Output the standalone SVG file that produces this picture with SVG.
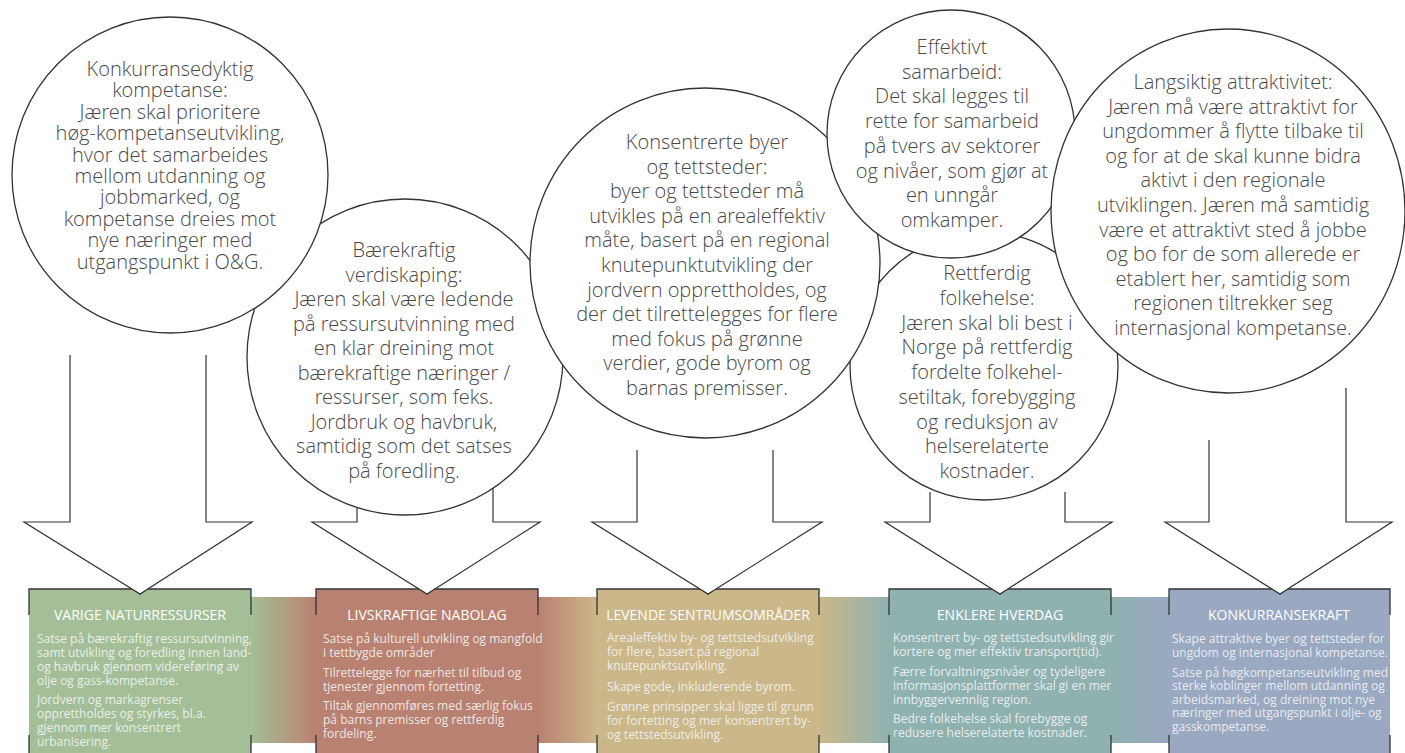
<svg xmlns="http://www.w3.org/2000/svg" width="1405" height="753" viewBox="0 0 1405 753">
<defs>
<style>
.c{fill:#fff;stroke:#333;stroke-width:1.3}
.ct{font-family:"Open Sans Light","Open Sans","Liberation Sans",sans-serif;font-weight:300;font-size:20px;fill:#484848;text-anchor:middle}
.arr{fill:#fff;stroke:#333;stroke-width:1.2;stroke-linejoin:miter}
.bl{fill:none;stroke:#333;stroke-width:1.3}
.bt{font-family:"Open Sans","Liberation Sans",sans-serif;font-weight:500;font-size:14px;fill:#fff;text-anchor:middle}
.bx{font-family:"Open Sans","Liberation Sans",sans-serif;font-weight:400;font-size:12px;fill:#f5f5f5;fill-opacity:0.9}
</style>
<linearGradient id="band" gradientUnits="userSpaceOnUse" x1="0" y1="0" x2="1405" y2="0">
<stop offset="0.1786" stop-color="#a4bf97"/>
<stop offset="0.2249" stop-color="#b98171"/>
<stop offset="0.3829" stop-color="#b98171"/>
<stop offset="0.4249" stop-color="#cbb789"/>
<stop offset="0.5829" stop-color="#cbb789"/>
<stop offset="0.6327" stop-color="#8fb1b0"/>
<stop offset="0.7907" stop-color="#8fb1b0"/>
<stop offset="0.8320" stop-color="#9aa8c2"/>
</linearGradient>
</defs>
<rect width="1405" height="753" fill="#fff"/>

<rect id="band-strip" x="245" y="597" width="930" height="146" fill="url(#band)"/>

<g id="box-varige">
<rect x="29" y="589" width="222" height="164" fill="#a4bf97"/>
<path class="bl" d="M29,615 V589 H133 L140,594 L147,589 H251 V615 M29,735 V753 M251,735 V753"/>
<text class="bt" x="140" y="620">VARIGE NATURRESSURSER</text>
<text class="bx"><tspan x="37" y="643">Satse på bærekraftig ressursutvinning,</tspan><tspan x="37" y="657">samt utvikling og foredling innen land-</tspan><tspan x="37" y="671">og havbruk gjennom videreføring av</tspan><tspan x="37" y="685">olje og gass-kompetanse.</tspan><tspan x="37" y="704">Jordvern og markagrenser</tspan><tspan x="37" y="718">opprettholdes og styrkes, bl.a.</tspan><tspan x="37" y="732">gjennom mer konsentrert</tspan><tspan x="37" y="746">urbanisering.</tspan></text>
</g>

<g id="box-livskraftige">
<rect x="316" y="589" width="222" height="164" fill="#b98171"/>
<path class="bl" d="M316,615 V589 H420 L427,594 L434,589 H538 V615 M316,735 V753 M538,735 V753"/>
<text class="bt" x="427" y="620">LIVSKRAFTIGE NABOLAG</text>
<text class="bx"><tspan x="323" y="643">Satse på kulturell utvikling og mangfold</tspan><tspan x="323" y="657">i tettbygde områder</tspan><tspan x="323" y="677">Tilrettelegge for nærhet til tilbud og</tspan><tspan x="323" y="691">tjenester gjennom fortetting.</tspan><tspan x="323" y="710">Tiltak gjennomføres med særlig fokus</tspan><tspan x="323" y="724">på barns premisser og rettferdig</tspan><tspan x="323" y="738">fordeling.</tspan></text>
</g>

<g id="box-levende">
<rect x="597" y="589" width="222" height="164" fill="#cbb789"/>
<path class="bl" d="M597,615 V589 H701 L708,594 L715,589 H819 V615 M597,735 V753 M819,735 V753"/>
<text class="bt" x="708" y="620">LEVENDE SENTRUMSOMRÅDER</text>
<text class="bx"><tspan x="607" y="642">Arealeffektiv by- og tettstedsutvikling</tspan><tspan x="607" y="656">for flere, basert på regional</tspan><tspan x="607" y="670">knutepunktsutvikling.</tspan><tspan x="607" y="691">Skape gode, inkluderende byrom.</tspan><tspan x="607" y="711">Grønne prinsipper skal ligge til grunn</tspan><tspan x="607" y="725">for fortetting og mer konsentrert by-</tspan><tspan x="607" y="739">og tettstedsutvikling.</tspan></text>
</g>

<g id="box-enklere">
<rect x="889" y="589" width="222" height="164" fill="#8fb1b0"/>
<path class="bl" d="M889,615 V589 H993 L1000,594 L1007,589 H1111 V615 M889,735 V753 M1111,735 V753"/>
<text class="bt" x="1000" y="620">ENKLERE HVERDAG</text>
<text class="bx"><tspan x="893" y="642">Konsentrert by- og tettstedsutvikling gir</tspan><tspan x="893" y="656">kortere og mer effektiv transport(tid).</tspan><tspan x="893" y="676">Færre forvaltningsnivåer og tydeligere</tspan><tspan x="893" y="690">informasjonsplattformer skal gi en mer</tspan><tspan x="893" y="704">innbyggervennlig region.</tspan><tspan x="893" y="723">Bedre folkehelse skal forebygge og</tspan><tspan x="893" y="737">redusere helserelaterte kostnader.</tspan></text>
</g>

<g id="box-konkurransekraft">
<rect x="1169" y="589" width="221" height="164" fill="#9aa8c2"/>
<path class="bl" d="M1169,615 V589 H1273 L1280,594 L1287,589 H1390 V615 M1169,735 V753 M1390,735 V753"/>
<text class="bt" x="1279" y="620">KONKURRANSEKRAFT</text>
<text class="bx"><tspan x="1172" y="643">Skape attraktive byer og tettsteder for</tspan><tspan x="1172" y="657">ungdom og internasjonal kompetanse.</tspan><tspan x="1172" y="677">Satse på høgkompetanseutvikling med</tspan><tspan x="1172" y="690">sterke koblinger mellom utdanning og</tspan><tspan x="1172" y="704">arbeidsmarked, og dreining mot nye</tspan><tspan x="1172" y="717">næringer med utgangspunkt i olje- og</tspan><tspan x="1172" y="731">gasskompetanse.</tspan></text>
</g>

<g id="connectors">
<path class="arr" d="M70,355 V522 H24 L140,594 L252,522 H206 V355"/>
<path class="arr" d="M357,470 V522 H312 L427,594 L540,522 H493 V470"/>
<path class="arr" d="M637,450 V522 H592 L708,594 L822,522 H773 V450"/>
<path class="arr" d="M930,492 V522 H885 L1000,594 L1112,522 H1065 V492"/>
<path class="arr" d="M1209,440 V522 H1165 L1280,594 L1392,522 H1346 V388"/>
</g>

<g id="circle-baerekraftig">
<circle class="c" cx="405" cy="357" r="158"/>
<text class="ct"><tspan x="404" y="257">Bærekraftig</tspan><tspan x="404" y="281.5">verdiskaping:</tspan><tspan x="404" y="306">Jæren skal være ledende</tspan><tspan x="404" y="330.5">på ressursutvinning med</tspan><tspan x="404" y="355">en klar dreining mot</tspan><tspan x="404" y="379.5">bærekraftige næringer /</tspan><tspan x="404" y="404">ressurser, som feks.</tspan><tspan x="404" y="428.5">Jordbruk og havbruk,</tspan><tspan x="404" y="453">samtidig som det satses</tspan><tspan x="404" y="477.5">på foredling.</tspan></text>
</g>

<g id="circle-konkurransedyktig">
<circle class="c" cx="170" cy="175" r="158"/>
<text class="ct"><tspan x="170" y="76">Konkurransedyktig</tspan><tspan x="170" y="97.4">kompetanse:</tspan><tspan x="170" y="118.8">Jæren skal prioritere</tspan><tspan x="170" y="140.2">høg-kompetanseutvikling,</tspan><tspan x="170" y="161.6">hvor det samarbeides</tspan><tspan x="170" y="183">mellom utdanning og</tspan><tspan x="170" y="204.4">jobbmarked, og</tspan><tspan x="170" y="225.8">kompetanse dreies mot</tspan><tspan x="170" y="247.2">nye næringer med</tspan><tspan x="170" y="268.6">utgangspunkt i O&amp;G.</tspan></text>
</g>

<g id="circle-rettferdig">
<circle class="c" cx="984" cy="366" r="134"/>
<text class="ct"><tspan x="987" y="280">Rettferdig</tspan><tspan x="987" y="304.75">folkehelse:</tspan><tspan x="987" y="329.5">Jæren skal bli best i</tspan><tspan x="987" y="354.25">Norge på rettferdig</tspan><tspan x="987" y="379">fordelte folkehel-</tspan><tspan x="987" y="403.75">setiltak, forebygging</tspan><tspan x="987" y="428.5">og reduksjon av</tspan><tspan x="987" y="453.25">helserelaterte</tspan><tspan x="987" y="478">kostnader.</tspan></text>
</g>

<g id="circle-konsentrerte">
<circle class="c" cx="705" cy="263" r="175"/>
<text class="ct"><tspan x="707" y="149">Konsentrerte byer</tspan><tspan x="707" y="173.6">og tettsteder:</tspan><tspan x="707" y="198.2">byer og tettsteder må</tspan><tspan x="707" y="222.8">utvikles på en arealeffektiv</tspan><tspan x="707" y="247.4">måte, basert på en regional</tspan><tspan x="707" y="272">knutepunktutvikling der</tspan><tspan x="707" y="296.6">jordvern opprettholdes, og</tspan><tspan x="707" y="321.2">der det tilrettelegges for flere</tspan><tspan x="707" y="345.8">med fokus på grønne</tspan><tspan x="707" y="370.4">verdier, gode byrom og</tspan><tspan x="707" y="395">barnas premisser.</tspan></text>
</g>

<g id="circle-effektivt">
<circle class="c" cx="951" cy="134" r="124"/>
<text class="ct"><tspan x="952" y="54">Effektivt</tspan><tspan x="952" y="78.7">samarbeid:</tspan><tspan x="952" y="103.4">Det skal legges til</tspan><tspan x="952" y="128.1">rette for samarbeid</tspan><tspan x="952" y="152.8">på tvers av sektorer</tspan><tspan x="952" y="177.5">og nivåer, som gjør at</tspan><tspan x="952" y="202.2">en unngår</tspan><tspan x="952" y="226.9">omkamper.</tspan></text>
</g>

<g id="circle-langsiktig">
<ellipse class="c" cx="1228" cy="211" rx="177" ry="182"/>
<text class="ct"><tspan x="1233" y="89">Langsiktig attraktivitet:</tspan><tspan x="1233" y="113.6">Jæren må være attraktivt for</tspan><tspan x="1233" y="138.2">ungdommer å flytte tilbake til</tspan><tspan x="1233" y="162.8">og for at de skal kunne bidra</tspan><tspan x="1233" y="187.4">aktivt i den regionale</tspan><tspan x="1233" y="212">utviklingen. Jæren må samtidig</tspan><tspan x="1233" y="236.6">være et attraktivt sted å jobbe</tspan><tspan x="1233" y="261.2">og bo for de som allerede er</tspan><tspan x="1233" y="285.8">etablert her, samtidig som</tspan><tspan x="1233" y="310.4">regionen tiltrekker seg</tspan><tspan x="1233" y="335">internasjonal kompetanse.</tspan></text>
</g>
</svg>
